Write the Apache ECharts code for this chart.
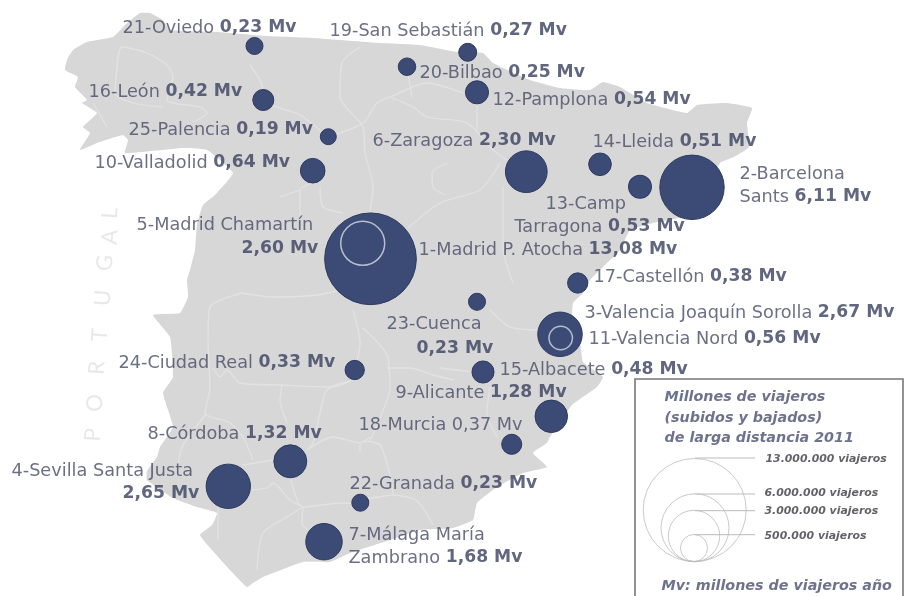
<!DOCTYPE html>
<html><head><meta charset="utf-8">
<style>html,body{margin:0;padding:0;background:#fff}#c{width:908px;height:596px}</style>
<script src="https://cdn.jsdelivr.net/npm/echarts@6/dist/echarts.min.js"></script>
</head><body><div id="c"></div>
<script>
// Station data
const stations = ['Madrid P. Atocha','Barcelona Sants','Valencia Joaquín Sorolla','Sevilla Santa Justa','Madrid Chamartín','Zaragoza','Málaga María Zambrano','Córdoba','Alicante','Valladolid','Valencia Nord','Pamplona','Camp Tarragona','Lleida','Albacete','León','Castellón','Murcia','San Sebastián','Bilbao','Oviedo','Granada','Cuenca','Ciudad Real','Palencia'];
const travellers = [13.08,6.11,2.67,2.65,2.60,2.30,1.68,1.32,1.28,0.64,0.56,0.54,0.53,0.51,0.48,0.42,0.38,0.37,0.27,0.25,0.23,0.23,0.23,0.33,0.19];
const stationX = [370.5,692,560,228.3,362.7,526.3,324,290.3,551.3,312.7,560.7,477,640,600,483,263.3,577.7,511.7,467.7,407,254.5,360.3,477,354.7,328.3];
const stationY = [258.8,187.3,334.3,486.3,243.3,171.7,541.7,461.3,416.3,170.7,338,92.3,186.7,164.3,372,100,283,444.3,52.3,66.7,46,502.7,301.8,370,136.7];
const ringStations = [4,10];

// Text lines
const labelNames = ['21-Oviedo','19-San Sebastián','20-Bilbao','12-Pamplona','16-León','25-Palencia','10-Valladolid','6-Zaragoza','14-Lleida','2-Barcelona','Sants','13-Camp','Tarragona','1-Madrid P. Atocha','5-Madrid Chamartín','','17-Castellón','3-Valencia Joaquín Sorolla','11-Valencia Nord','23-Cuenca','','24-Ciudad Real','15-Albacete','9-Alicante','18-Murcia 0,37 Mv','8-Córdoba','4-Sevilla Santa Justa','','22-Granada','7-Málaga María','Zambrano'];
const labelValues = ['0,23 Mv','0,27 Mv','0,25 Mv','0,54 Mv','0,42 Mv','0,19 Mv','0,64 Mv','2,30 Mv','0,51 Mv','','6,11 Mv','','0,53 Mv','13,08 Mv','','2,60 Mv','0,38 Mv','2,67 Mv','0,56 Mv','','0,23 Mv','0,33 Mv','0,48 Mv','1,28 Mv','','1,32 Mv','','2,65 Mv','0,23 Mv','','1,68 Mv'];
const labelX = [122,329,419,492,88,128,94,372,592,739,739,545,514,418,136,241,593,584,588,386,416,118,499,395,358,147,11,122,349,348,348];
const labelY = [27,30,72,99,91,129,162,140,141,173,196,203,226,249,224,248,276,312,338,323,348,362,369,392,424,433,470,493,483,534,557];

// Land outline
const landX = [65,67,73,87,113,125,140,150,163,170,217,267,313,380,420,457,483,493,530,560,590,603,620,647,687,697,727,752,747,749,734,720,700,683,653,630,620,603,590,583,573,572,580,583,603,597,572,550,547,533,547,523,497,477,473,453,420,390,350,330,303,263,253,247,230,212,200,212,217,197,173,147,147,157,160,173,163,173,170,153,180,188,187,190,195,197,203,215,233,207,183,125,128,123,97,80,90,83,97,82,87,75,78];
const landY = [70,60,50,42,37,25,13,13,20,30,32,36,38,43,45,52,53,63,80,88,90,82,87,103,113,105,103,108,123,147,157,163,205,217,223,230,250,267,280,293,303,330,343,362,377,387,405,437,443,453,467,473,487,503,520,528,530,540,553,562,562,577,583,587,570,550,535,525,513,507,498,480,471,457,447,427,393,377,337,315,313,297,280,270,250,225,205,195,173,150,148,153,140,135,143,150,133,127,113,103,100,87,77];

// Road network, runs separated by gaps
const roadX = [328,363,377,390,427,463,'-',390,413,427,467,493,507,'-',360,342,340,363,365,373,370,'-',408,412,'-',408,440,480,500,'-',447,432,433,445,'-',313,300,300,'-',320,323,343,'-',280,300,'-',503,503,513,'-',477,477,'-',250,262,263,300,328,'-',117,122,147,167,173,167,200,207,193,'-',117,115,133,163,'-',93,107,'-',242,210,208,210,205,230,243,253,'-',205,182,178,'-',242,273,317,353,'-',353,360,353,'-',213,220,227,240,282,333,353,'-',282,280,287,'-',353,327,320,313,307,'-',243,273,'-',307,333,360,370,'-',360,360,'-',290,303,343,360,'-',250,267,273,290,303,'-',303,287,263,257,'-',303,302,307,'-',218,218,'-',360,370,393,417,433,'-',363,380,390,393,'-',490,510,537,'-',490,487,497,'-',440,473,'-',387,410,433,454,'-',363,387,390,380,370];
const roadY = [137,123,103,97,83,93,'-',97,107,117,123,150,160,'-',47,63,97,127,153,187,212,'-',73,97,'-',228,203,190,163,'-',163,173,187,195,'-',183,190,217,'-',187,207,213,'-',197,190,'-',187,247,283,'-',103,130,'-',65,85,100,115,137,'-',67,47,53,65,77,100,107,113,122,'-',67,93,103,107,'-',103,127,'-',293,307,340,387,413,423,437,460,'-',415,447,467,'-',293,297,295,287,'-',310,343,377,'-',368,377,370,383,385,387,380,'-',385,400,423,'-',380,390,413,443,450,'-',465,460,'-',450,437,443,437,'-',443,453,'-',477,507,503,503,'-',490,488,483,500,507,'-',507,517,533,570,'-',507,523,530,'-',507,540,'-',498,498,495,501,525,'-',441,445,475,495,'-',310,327,330,'-',387,413,437,'-',368,372,'-',368,368,375,380,'-',328,355,388,418,441];

// Legend
const legendValues = ['13.000.000 viajeros','6.000.000 viajeros','3.000.000 viajeros','500.000 viajeros'];
const legendCircleX = [694.7,695,694,694];
const legendCircleY = [510,527.8,536,548];
const legendDiameter = [103,68,51.4,27];
const legendLineY = [458,494,510.7,534.7];
const legendLineX0 = 695, legendLineX1 = 755;
const legendLabelX = [765,764,764,764];
const legendLabelY = [459,493,511,536];
const legendTitle = ['Millones de viajeros','(subidos y bajados)','de larga distancia 2011','Mv: millones de viajeros año'];
const legendTitleX = [664,664,664,661];
const legendTitleY = [397,418,438,586];

// Country label along the border
const countryLetters = ['P','O','R','T','U','G','A','L'];
const countryX = [93,95,97,100,103,105,110,110];
const countryY = [435,403,368,335,298,263,237,213];

const NAVY = '#3b4b75', TXT='#464c67', BOLD='#38415f';
const font = '"DejaVu Sans", sans-serif';
const r = v => 2.8 + 11.9*Math.sqrt(v);

const option = {
  animation:false,
  backgroundColor:'#fff',
  grid:{left:0,right:0,top:0,bottom:0},
  xAxis:{type:'value',min:0,max:908,show:false},
  yAxis:{type:'value',min:0,max:596,inverse:true,show:false},
  series:[
    {type:'custom',silent:true,z:1,coordinateSystem:'cartesian2d',data:[[0,0]],
     renderItem:(p,api)=>({type:'polygon',shape:{points:landX.map((x,i)=>api.coord([x,landY[i]])),smooth:0.12},style:{fill:'#d8d7d8'}})},
    {type:'line',silent:true,z:2,symbol:'none',smooth:0.25,connectNulls:false,
     data:roadX.map((x,i)=>[x,roadY[i]]),lineStyle:{color:'#e3e2e3',width:1.3}},
    {type:'scatter',silent:true,z:3,data:countryX.map((x,i)=>[x,countryY[i]]),symbolSize:1,itemStyle:{color:'transparent'},
     label:{show:true,position:'inside',formatter:p=>countryLetters[p.dataIndex],rotate:86,color:'#e2e2e3',fontFamily:'Lato, sans-serif',fontSize:22}},
    {type:'scatter',silent:true,z:4,data:stationX.map((x,i)=>[x,stationY[i],travellers[i]]).filter((d,i)=>!ringStations.includes(i)),
     symbolSize:d=>2*r(d[2]),itemStyle:{color:NAVY,borderColor:'#2c3a5e',borderWidth:1,opacity:1}},
    {type:'scatter',silent:true,z:5,data:ringStations.map(i=>[stationX[i],stationY[i],travellers[i]]),
     symbolSize:d=>2*r(d[2]),itemStyle:{color:'transparent',borderColor:'#d8dbe3',borderWidth:1.5}},
    {type:'scatter',silent:true,z:6,data:labelX.map((x,i)=>[x,labelY[i]]),symbolSize:1,itemStyle:{color:'transparent'},
     label:{show:true,position:'right',distance:0,offset:[0,1],fontFamily:font,
       formatter:p=>{const n=labelNames[p.dataIndex],v=labelValues[p.dataIndex];return (n?'{a|'+n+'}':'')+(n&&v?'{a| }':'')+(v?'{b|'+v+'}':'');},
       rich:{a:{fontFamily:font,fontSize:17.7,color:TXT},b:{fontFamily:font,fontSize:17.2,fontWeight:700,color:BOLD}}}},
    {type:'custom',silent:true,z:7,data:[[635,379,903,596]],
     renderItem:(p,api)=>{const a=api.coord([api.value(0),api.value(1)]),b=api.coord([api.value(2),api.value(3)]);
       return {type:'rect',shape:{x:a[0],y:a[1],width:b[0]-a[0],height:b[1]-a[1]+4},style:{fill:'#fff',stroke:'#777',lineWidth:1.6}};}},
    {type:'line',silent:true,z:8,symbol:'none',connectNulls:false,
     data:legendLineY.flatMap(y=>[[legendLineX0,y],[legendLineX1,y],['-','-']]),lineStyle:{color:'#bbb',width:1}},
    {type:'scatter',silent:true,z:8,data:legendCircleX.map((x,i)=>[x,legendCircleY[i],legendDiameter[i]]),
     symbolSize:d=>d[2],itemStyle:{color:'transparent',borderColor:'#bdbdbd',borderWidth:1}},
    {type:'scatter',silent:true,z:9,data:legendLabelX.map((x,i)=>[x,legendLabelY[i]]),symbolSize:1,itemStyle:{color:'transparent'},
     label:{show:true,position:'right',distance:0,formatter:p=>legendValues[p.dataIndex],fontFamily:font,fontSize:10.9,fontStyle:'italic',fontWeight:700,color:'#3a3a42'}},
    {type:'scatter',silent:true,z:9,data:legendTitleX.map((x,i)=>[x,legendTitleY[i]]),symbolSize:1,itemStyle:{color:'transparent'},
     label:{show:true,position:'right',distance:0,formatter:p=>legendTitle[p.dataIndex],fontFamily:font,fontSize:14.3,fontStyle:'italic',fontWeight:700,color:'#4a5070'}}
  ]
};
echarts.init(document.getElementById('c'),null,{renderer:'canvas'}).setOption(option);
</script></body></html>
